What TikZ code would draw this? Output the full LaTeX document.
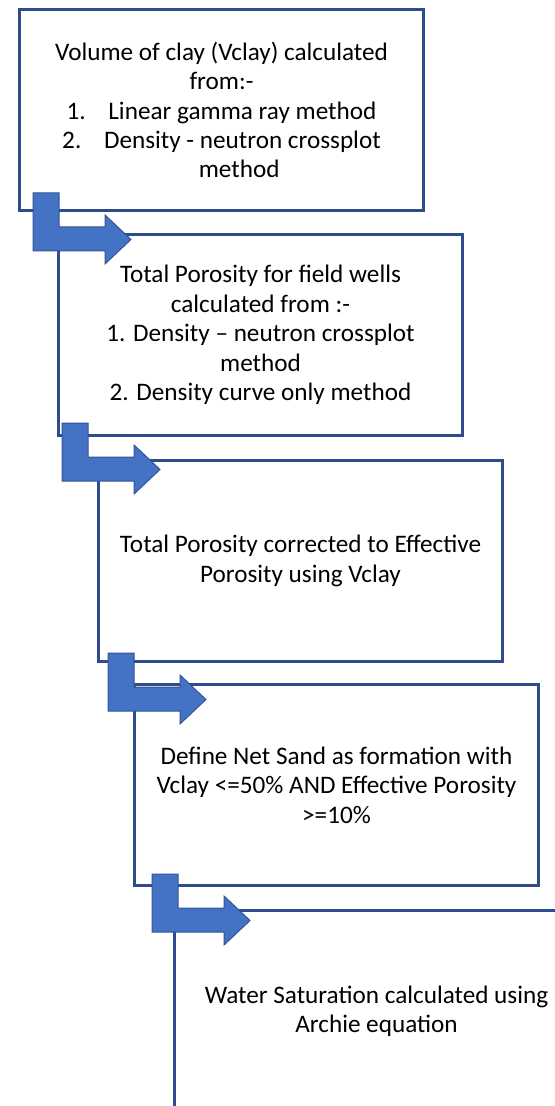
\documentclass[tikz,border=0pt]{standalone}
\usepackage{fontspec}
\setmainfont{Carlito}
\usetikzlibrary{calc}

\definecolor{boxline}{HTML}{2E4C8E}
\definecolor{arrowfill}{HTML}{4472C4}
\definecolor{arrowline}{HTML}{2F5597}

\tikzset{
  stepbox/.style={draw=boxline, line width=1.5pt, fill=white, shape=rectangle,
    anchor=north west, minimum width=202pt, minimum height=100.5pt,
    align=center, inner sep=0pt, font=\fontsize{12.6}{14.7}\selectfont},
  bendarrow/.style={fill=arrowfill, draw=arrowline, line width=0.5pt, line join=miter}
}

% bent-up arrow, stem placed relative to the box it points into
\newcommand{\bentup}[3]{%
  \path[bendarrow] ([shift={(#2,#3)}]#1.north west) -- ++(26,0) -- ++(0,34)
    -- ++(46,0) -- ++(0,-12) -- ++(26,24.5) -- ++(-26,24.5) -- ++(0,-13)
    -- ++(-72,0) -- cycle;}

\begin{document}
\begin{tikzpicture}[x=0.5pt,y=-0.5pt]
   \useasboundingbox (0,0) rectangle (555,1106);
   \clip (0,0) rectangle (555,1106);

   \path (18,8) node[stepbox] (vclay)
   {Volume of clay (Vclay) calculated\\
    from:-\\
    1.\hspace{0.9em}Linear gamma ray method\\
    2.\hspace{0.9em}Density - neutron crossplot\\
    \hspace*{1.4em}method};
   \path (57,233) node[stepbox] (por)
   {Total Porosity for field wells\\
    calculated from :-\\
    1. Density – neutron crossplot\\
    method\\
    2. Density curve only method};
   \path (97,459) node[stepbox] (eff)
   {Total Porosity corrected to Effective\\
    Porosity using Vclay};
   \path (133,683) node[stepbox] (net)
   {Define Net Sand as formation with\\
    Vclay <=50\% AND Effective Porosity\\
    >=10\%};
   \path (173,909) node[stepbox] (sw)
   {Water Saturation calculated using\\
    Archie equation};

   \bentup{por}{-24}{-40}
   \bentup{eff}{-35}{-36}
   \bentup{net}{-25}{-30}
   \bentup{sw}{-21}{-35}
\end{tikzpicture}
\end{document}
